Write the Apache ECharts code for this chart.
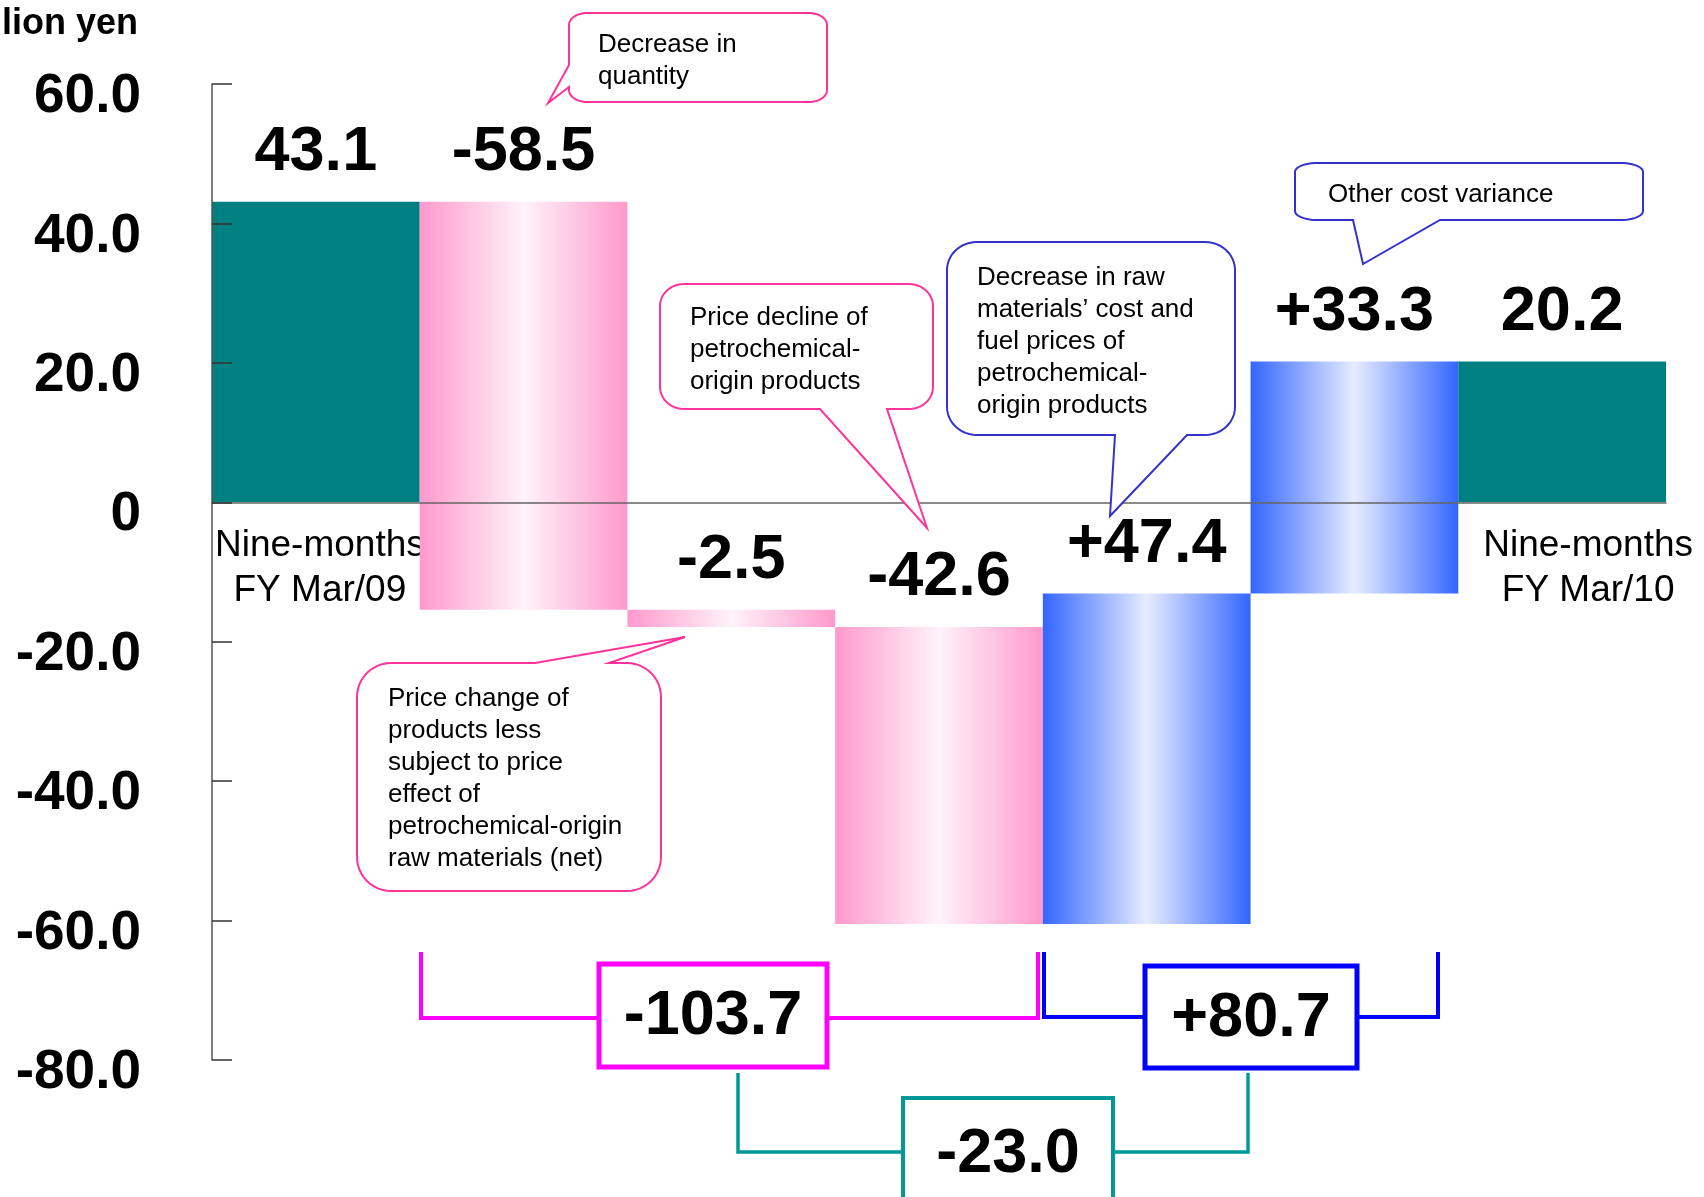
<!DOCTYPE html>
<html>
<head>
<meta charset="utf-8">
<script src="https://cdn.jsdelivr.net/npm/echarts@6/dist/echarts.min.js"></script>
<style>
  html, body { margin: 0; padding: 0; background: #ffffff; }
  #chart { width: 1704px; height: 1197px; }
</style>
</head>
<body>
<div id="chart"></div>
<script>
// Operating income bridge, nine months FY Mar/09 -> FY Mar/10 (billion yen)
const categories = [
  'Nine-months\nFY Mar/09',
  'Decrease in quantity',
  'Price change (net)',
  'Price decline',
  'Raw materials and fuel',
  'Other cost variance',
  'Nine-months\nFY Mar/10'
];
const stepKinds = ['total', 'delta', 'delta', 'delta', 'delta', 'delta', 'total'];
const stepValues = [43.1, -58.5, -2.5, -42.6, 47.4, 33.3, 20.2];

// value axis range and step
const yMin = -80;
const yMax = 60;
const yStep = 20;

// grouped subtotals written under the bars
const subtotalLabels = ['-103.7', '+80.7', '-23.0'];

const FONT = '"Liberation Sans", Arial, Helvetica, sans-serif';

// floating segments: [index, low, high, value]
const segments = [];
let running = 0;
stepValues.forEach((v, i) => {
  let a, b;
  if (stepKinds[i] === 'total') { a = 0; b = v; running = v; }
  else { a = running; b = running + v; running = b; }
  segments.push([i, Math.min(a, b), Math.max(a, b), v]);
});

const teal = '#008080';
const pinkFill = new echarts.graphic.LinearGradient(0, 0, 1, 0, [
  { offset: 0, color: '#ff99cc' },
  { offset: 0.5, color: '#fff3f9' },
  { offset: 1, color: '#ff99cc' }
]);
const blueFill = new echarts.graphic.LinearGradient(0, 0, 1, 0, [
  { offset: 0, color: '#3366ff' },
  { offset: 0.5, color: '#e6ecff' },
  { offset: 1, color: '#3366ff' }
]);

function stepLabel(i) {
  const v = stepValues[i];
  if (stepKinds[i] === 'total') return v.toFixed(1);
  return (v > 0 ? '+' : '') + v.toFixed(1);
}

function renderStep(params, api) {
  const i = api.value(0);
  const top = api.coord([i, api.value(2)]);
  const bottom = api.coord([i, api.value(1)]);
  const zero = api.coord([i, 0]);
  const w = api.size([1, 0])[0];
  let fill = teal;
  if (stepKinds[i] === 'delta') fill = stepValues[i] < 0 ? pinkFill : blueFill;
  const children = [
    {
      type: 'rect',
      shape: { x: top[0] - w / 2, y: top[1], width: w, height: bottom[1] - top[1] },
      style: { fill: fill }
    },
    {
      type: 'text',
      x: top[0],
      y: top[1] - 49,
      style: {
        text: stepLabel(i),
        align: 'center',
        verticalAlign: 'middle',
        font: 'bold 63px ' + FONT,
        fill: '#000000'
      }
    }
  ];
  // period names sit just under the zero line beneath the two totals
  if (stepKinds[i] === 'total') {
    children.push({
      type: 'text',
      x: zero[0] + (i === stepValues.length - 1 ? 26 : 4),
      y: zero[1] + 21,
      style: {
        text: categories[i],
        align: 'center',
        verticalAlign: 'top',
        font: '37px ' + FONT,
        lineHeight: 45,
        fill: '#000000'
      }
    });
  }
  return { type: 'group', children: children };
}

// speech-bubble outline: rounded box with a pointer on one edge
function bubblePoints(b) {
  const pts = [];
  const arc = (cx, cy, a0, a1) => {
    for (let k = 0; k <= 12; k++) {
      const a = (a0 + (a1 - a0) * k / 12) * Math.PI / 180;
      pts.push([cx + b.rx * Math.cos(a), cy + b.ry * Math.sin(a)]);
    }
  };
  const tail = e => { if (e === b.edge) b.tail.forEach(p => pts.push(p)); };
  arc(b.x1 + b.rx, b.y1 + b.ry, 180, 270);
  tail('top');
  arc(b.x2 - b.rx, b.y1 + b.ry, 270, 360);
  tail('right');
  arc(b.x2 - b.rx, b.y2 - b.ry, 0, 90);
  tail('bottom');
  arc(b.x1 + b.rx, b.y2 - b.ry, 90, 180);
  tail('left');
  return pts;
}

const PINK = '#ff3399';
const BLUE = '#3333cc';

const bubbles = [
  { x1: 569, y1: 13, x2: 827, y2: 102, rx: 18, ry: 12, edge: 'left',
    tail: [[569, 87], [548, 103], [569, 65]], color: PINK,
    text: 'Decrease in\nquantity', tx: 598, ty: 29 },
  { x1: 660, y1: 284, x2: 933, y2: 409, rx: 24, ry: 22, edge: 'bottom',
    tail: [[887, 409], [927, 528], [820, 409]], color: PINK,
    text: 'Price decline of\npetrochemical-\norigin products', tx: 690, ty: 302 },
  { x1: 947, y1: 242, x2: 1235, y2: 435, rx: 30, ry: 28, edge: 'bottom',
    tail: [[1187, 435], [1110, 516], [1115, 435]], color: BLUE,
    text: 'Decrease in raw\nmaterials\u2019 cost and\nfuel prices of\npetrochemical-\norigin products', tx: 977, ty: 262 },
  { x1: 357, y1: 663, x2: 661, y2: 891, rx: 34, ry: 34, edge: 'top',
    tail: [[535, 663], [685, 637], [609, 663]], color: PINK,
    text: 'Price change of\nproducts less\nsubject to price\neffect of\npetrochemical-origin\nraw materials (net)', tx: 388, ty: 683 },
  { x1: 1295, y1: 163, x2: 1643, y2: 220, rx: 22, ry: 9, edge: 'bottom',
    tail: [[1440, 220], [1363, 264], [1353, 220]], color: BLUE,
    text: 'Other cost variance', tx: 1328, ty: 179 }
];

const graphics = [
  {
    type: 'text', x: -44, y: 24, z: 100,
    style: { text: 'Billion yen', font: 'bold 36px ' + FONT, fill: '#000', verticalAlign: 'middle', align: 'left' }
  }
];

bubbles.forEach(b => {
  graphics.push({
    type: 'polygon', z: 100,
    shape: { points: bubblePoints(b) },
    style: { fill: '#ffffff', stroke: b.color, lineWidth: 2 }
  });
  graphics.push({
    type: 'text', x: b.tx, y: b.ty, z: 101,
    style: { text: b.text, font: '26px ' + FONT, fill: '#000', lineHeight: 32, align: 'left', verticalAlign: 'top' }
  });
});

// brackets grouping the decreases, the increases and their net
const brackets = [
  { points: [[421, 952], [421, 1018], [1038, 1018], [1038, 952]], color: '#ff00ff', lw: 4,
    box: [599, 964, 228, 103], boxLw: 5, text: subtotalLabels[0], ty: 1017 },
  { points: [[1044, 952], [1044, 1017], [1438, 1017], [1438, 952]], color: '#0000ff', lw: 4,
    box: [1145, 966, 212, 102], boxLw: 5, text: subtotalLabels[1], ty: 1019 },
  { points: [[738, 1073], [738, 1152], [1248, 1152], [1248, 1073]], color: '#009999', lw: 3.5,
    box: [903, 1098, 210, 120], boxLw: 4, text: subtotalLabels[2], ty: 1155 }
];

brackets.forEach(k => {
  graphics.push({
    type: 'polyline', z: 100,
    shape: { points: k.points },
    style: { stroke: k.color, lineWidth: k.lw, fill: null }
  });
  graphics.push({
    type: 'rect', z: 101,
    shape: { x: k.box[0], y: k.box[1], width: k.box[2], height: k.box[3] },
    style: { fill: '#ffffff', stroke: k.color, lineWidth: k.boxLw }
  });
  graphics.push({
    type: 'text', z: 102,
    x: k.box[0] + k.box[2] / 2,
    y: k.ty,
    style: { text: k.text, font: 'bold 63px ' + FONT, fill: '#000', align: 'center', verticalAlign: 'middle' }
  });
});

const chart = echarts.init(document.getElementById('chart'), null, { renderer: 'canvas' });

chart.setOption({
  animation: false,
  backgroundColor: '#ffffff',
  grid: { left: 212, right: 38, top: 84, bottom: 137, containLabel: false },
  xAxis: {
    type: 'category',
    data: categories,
    z: 10,
    axisLine: { onZero: true, lineStyle: { color: '#666666', width: 1.5 } },
    axisTick: { show: false },
    splitLine: { show: false },
    axisLabel: { show: false }
  },
  yAxis: {
    type: 'value',
    min: yMin,
    max: yMax,
    interval: yStep,
    z: 10,
    axisLine: { show: true, lineStyle: { color: '#555555', width: 1.5 } },
    axisTick: { show: true, inside: true, length: 20, lineStyle: { color: '#333333', width: 1.5 } },
    splitLine: { show: false },
    axisLabel: {
      margin: 71,
      fontSize: 55,
      fontWeight: 'bold',
      color: '#000000',
      fontFamily: FONT,
      verticalAlign: 'top',
      lineHeight: 26,
      formatter: v => v === 0 ? '0' : v.toFixed(1)
    }
  },
  series: [{
    type: 'custom',
    renderItem: renderStep,
    encode: { x: 0, y: [1, 2] },
    data: segments,
    clip: false,
    z: 2
  }],
  graphic: { elements: graphics }
});
</script>
</body>
</html>
